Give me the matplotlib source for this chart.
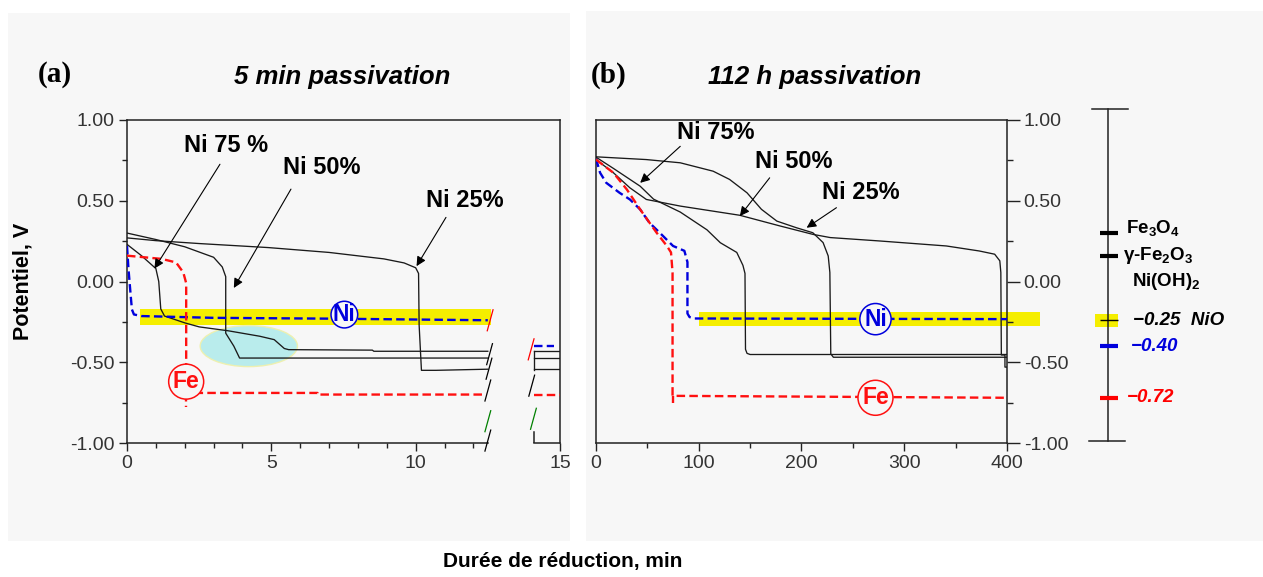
"""Galvanostatic reduction curves after 5 min and 112 h passivation."""

import matplotlib

matplotlib.use("Agg")

import matplotlib.pyplot as plt
from matplotlib.patches import Ellipse, Rectangle
from matplotlib.ticker import FixedLocator, FormatStrFormatter

plt.rcParams["font.family"] = ["Liberation Sans", "DejaVu Sans"]
plt.rcParams["axes.unicode_minus"] = False
plt.rcParams["mathtext.fontset"] = "custom"
plt.rcParams["mathtext.rm"] = "Liberation Sans:bold"
plt.rcParams["mathtext.default"] = "rm"

# ---- panel (a): 5 min passivation, time in min ----
a_ni25_x = [0, 1.0, 2.5, 4.9, 7.0, 8.9, 9.6, 10.0, 10.1, 10.12, 10.2, 10.7, 12.5]
a_ni25_v = [0.27, 0.253, 0.235, 0.21, 0.18, 0.14, 0.115, 0.085, 0.05, -0.27, -0.55, -0.55, -0.543]
a_ni50_x = [0, 1.0, 2.0, 3.0, 3.3, 3.42, 3.42, 3.7, 3.9, 12.5]
a_ni50_v = [0.30, 0.26, 0.215, 0.15, 0.09, 0.03, -0.32, -0.40, -0.474, -0.474]
a_ni75_x = [0, 0.5, 1.0, 1.1, 1.17, 1.3, 2.0, 2.5, 3.5, 4.6, 5.1, 5.45, 5.6, 8.5, 8.55, 12.5]
a_ni75_v = [0.23, 0.16, 0.08, 0.0, -0.17, -0.214, -0.256, -0.281, -0.305, -0.339, -0.36, -0.415,
            -0.422, -0.425, -0.432, -0.432]
a_ni_x = [0, 0.05, 0.12, 0.17, 0.24, 0.5, 3.0, 7.0, 12.5]
a_ni_v = [0.22, 0.08, -0.07, -0.173, -0.204, -0.214, -0.225, -0.23, -0.24]
a_fe_x = [0, 1.2, 1.7, 1.95, 2.05, 2.05, 6.6, 6.6, 12.45]
a_fe_v = [0.16, 0.14, 0.118, 0.056, -0.01, -0.69, -0.69, -0.70, -0.70]
a_fe_tail_x = [2.05, 2.05]
a_fe_tail_v = [-0.69, -0.78]
# levels after the axis break (14.1 - 15 min)
a_tail_x = [14.1, 15]
a_tail_ni = -0.40
a_tail_black = [-0.432, -0.474, -0.543]
a_tail_fe = -0.70
a_tail_join = [-0.432, -0.55]
a_band_x = [0.44, 12.6]
a_band_v = [-0.272, -0.168]
a_break_x = [12.5, 14.1]
a_breaks = [(12.58, -0.24, "red"), (12.56, -0.45, "black"), (12.54, -0.54, "black"),
            (12.5, -0.675, "black"), (12.5, -0.865, "green"), (12.5, -0.985, "black"),
            (14.0, -0.42, "red"), (14.02, -0.645, "black"), (14.08, -0.85, "green")]

# ---- panel (b): 112 h passivation, time in min ----
b_ni75_x = [0, 17, 43, 56, 82, 108, 121, 137, 143, 145, 145.5, 147, 150, 400]
b_ni75_v = [0.77, 0.70, 0.59, 0.51, 0.43, 0.32, 0.24, 0.18, 0.10, 0.05, -0.42, -0.445, -0.452, -0.452]
b_ni50_x = [0, 49, 82, 114, 130, 147, 161, 176, 195, 211, 221, 226, 227.6, 228.5, 231, 400]
b_ni50_v = [0.772, 0.755, 0.735, 0.683, 0.632, 0.549, 0.447, 0.374, 0.333, 0.302, 0.241, 0.158,
            0.056, -0.448, -0.469, -0.469]
b_ni25_x = [0, 17, 33, 49, 82, 140, 179, 211, 228, 276, 341, 373, 388, 393, 394, 394.5, 398, 398, 400]
b_ni25_v = [0.755, 0.673, 0.58, 0.508, 0.467, 0.41, 0.344, 0.292, 0.272, 0.251, 0.22, 0.189, 0.169,
            0.128, 0.056, -0.455, -0.455, -0.53, -0.53]
b_ni_x = [0, 4, 10, 23, 33, 43, 52, 62, 75, 86, 89, 89, 91, 95, 400]
b_ni_v = [0.76, 0.673, 0.611, 0.549, 0.508, 0.446, 0.364, 0.302, 0.22, 0.19, 0.12, -0.198, -0.22,
          -0.229, -0.233]
b_fe_x = [0, 17, 30, 43, 59, 69, 73, 74.5, 74.5, 400]
b_fe_v = [0.755, 0.673, 0.57, 0.446, 0.302, 0.22, 0.18, 0.056, -0.708, -0.72]
b_fe_tail_x = [74.5, 74.5]
b_fe_tail_v = [-0.708, -0.75]
b_band_x = [100, 432]
b_band_v = [-0.277, -0.187]

# ---- reference potentials scale ----
ref_levels = [0.30, 0.155, -0.24, -0.40, -0.72]
ref_colors = ["black", "black", "black", "#0000dd", "red"]
ref_widths = [3.0, 3.0, 1.0, 3.0, 3.0]
ref_labels = ["Fe$_3$O$_4$", "γ-Fe$_2$O$_3$", "Ni(OH)$_2$", "−0.25  NiO", "−0.40", "−0.72"]
ref_label_v = [0.33, 0.16, 0.0, -0.24, -0.40, -0.72]
ref_label_colors = ["black", "black", "black", "black", "#0000dd", "red"]
ref_label_italic = [False, False, False, True, True, True]

BG = "#f7f7f7"
CURVE = "#1a1a1a"
BLUE = "#0000dd"
RED = "#ff1010"
YELLOW = "#f5ee00"
DASH = (3.6, 1.8)

W, H = 1263, 577


def fx(px):
    return px / W


def fy(py):
    return 1 - py / H


def style_axes(ax):
    ax.set_facecolor("none")
    ax.set_ylim(-1, 1)
    ax.yaxis.set_major_locator(FixedLocator([-1, -0.5, 0, 0.5, 1]))
    ax.yaxis.set_minor_locator(FixedLocator([-0.75, -0.25, 0.25, 0.75]))
    ax.yaxis.set_major_formatter(FormatStrFormatter("%.2f"))
    ax.tick_params(which="both", direction="out", width=1, colors="#222222",
                   labelcolor="#333333", labelsize=14, pad=3)
    ax.tick_params(which="major", length=6)
    ax.tick_params(which="minor", length=3.5)
    for sp in ax.spines.values():
        sp.set_linewidth(1.1)
        sp.set_color("#222222")


def circle_label(ax, x, v, text, color, pad=0.12):
    ax.text(x, v, text, color=color, fontsize=16.5, fontweight="bold", ha="center", va="center",
            zorder=6, bbox=dict(boxstyle=f"circle,pad={pad}", fc=BG, ec=color, lw=1.1))


def pointer(ax, label, text_xy, tail, tip):
    ax.text(*text_xy, label, fontsize=17, fontweight="bold", ha="center", va="center", zorder=6)
    ax.annotate("", xy=tip, xytext=tail, zorder=6,
                arrowprops=dict(arrowstyle="-|>", color="black", lw=0.8, mutation_scale=14,
                                shrinkA=0, shrinkB=0))


fig = plt.figure(figsize=(W / 100, H / 100), dpi=100)
fig.patch.set_facecolor("white")
for x0, y0, x1, y1 in [(8, 13, 570, 541), (586, 11, 1263, 541)]:
    fig.patches.append(Rectangle((fx(x0), fy(y1)), fx(x1 - x0), (y1 - y0) / H,
                                 transform=fig.transFigure, fc=BG, ec="none", zorder=-10))

bottom, height = fy(443), 323 / H

# ---------------- panel (a) ----------------
ax1 = fig.add_axes([fx(127), bottom, fx(433), height])
style_axes(ax1)
ax1.set_xlim(0, 15)
ax1.xaxis.set_major_locator(FixedLocator([0, 5, 10, 15]))
ax1.xaxis.set_minor_locator(FixedLocator([1, 2, 3, 4, 6, 7, 8, 9, 11, 12]))
ax1.spines["bottom"].set_visible(False)
trans = ax1.get_xaxis_transform()
ax1.plot([0, a_break_x[0]], [0, 0], color="#222222", lw=1.1, transform=trans, clip_on=False)
ax1.plot([a_break_x[1], 15], [0, 0], color="#222222", lw=1.1, transform=trans, clip_on=False)
ax1.plot([a_break_x[1]] * 2, [-1, -0.93], color="#222222", lw=1.1)

ax1.fill_between(a_band_x, a_band_v[0], a_band_v[1], color=YELLOW, lw=0, zorder=1)
ax1.add_patch(Ellipse((4.22, -0.40), 3.37, 0.254, fc="#b9ecec", ec="#eef0b0", lw=1, zorder=1.5))

for xs, vs in [(a_ni25_x, a_ni25_v), (a_ni50_x, a_ni50_v), (a_ni75_x, a_ni75_v)]:
    ax1.plot(xs, vs, color=CURVE, lw=0.95, zorder=3)
ax1.plot(a_ni_x, a_ni_v, color=BLUE, lw=1.7, dashes=DASH, zorder=4)
ax1.plot(a_fe_x, a_fe_v, color=RED, lw=1.7, dashes=DASH, zorder=4)
ax1.plot(a_fe_tail_x, a_fe_tail_v, color=RED, lw=1.7, dashes=DASH, zorder=4)
for lvl in a_tail_black:
    ax1.plot(a_tail_x, [lvl, lvl], color=CURVE, lw=0.95, zorder=3)
ax1.plot([a_tail_x[0]] * 2, a_tail_join, color=CURVE, lw=0.95, zorder=3)
ax1.plot([a_tail_x[0], 14.8], [a_tail_ni] * 2, color=BLUE, lw=1.7, dashes=DASH, zorder=4)
ax1.plot(a_tail_x, [a_tail_fe] * 2, color=RED, lw=1.7, dashes=DASH, zorder=4)
for bx, bv, bc in a_breaks:
    ax1.plot([bx - 0.1, bx + 0.1], [bv - 0.065, bv + 0.065], color=bc, lw=0.9,
             clip_on=False, zorder=5)

circle_label(ax1, 7.53, -0.205, "Ni", BLUE, pad=0.08)
circle_label(ax1, 2.05, -0.62, "Fe", RED, pad=0.18)
pointer(ax1, "Ni 75 %", (3.42, 0.84), (3.22, 0.726), (0.95, 0.08))
pointer(ax1, "Ni 50%", (6.74, 0.706), (5.68, 0.572), (3.7, -0.04))
pointer(ax1, "Ni 25%", (11.71, 0.50), (11.05, 0.397), (10.03, 0.095))

ax1.set_ylabel("Potentiel, V", fontsize=15.5, fontweight="bold")
ax1.yaxis.set_label_coords(-0.217, 0.5)

# ---------------- panel (b) ----------------
ax2 = fig.add_axes([fx(596), bottom, fx(411), height])
style_axes(ax2)
ax2.set_xlim(0, 400)
ax2.xaxis.set_major_locator(FixedLocator([0, 100, 200, 300, 400]))
ax2.xaxis.set_minor_locator(FixedLocator([50, 150, 250, 350]))
ax2.yaxis.tick_right()
ax2.tick_params(axis="y", which="major", length=9)
ax2.tick_params(axis="y", which="minor", length=4)

ax2.fill_between(b_band_x, b_band_v[0], b_band_v[1], color=YELLOW, lw=0, zorder=1, clip_on=False)
for xs, vs in [(b_ni75_x, b_ni75_v), (b_ni50_x, b_ni50_v), (b_ni25_x, b_ni25_v)]:
    ax2.plot(xs, vs, color=CURVE, lw=0.95, zorder=3)
ax2.plot(b_ni_x, b_ni_v, color=BLUE, lw=1.7, dashes=DASH, zorder=4)
ax2.plot(b_fe_x, b_fe_v, color=RED, lw=1.7, dashes=DASH, zorder=4)
ax2.plot(b_fe_tail_x, b_fe_tail_v, color=RED, lw=1.7, dashes=DASH, zorder=4)

circle_label(ax2, 272, -0.233, "Ni", BLUE, pad=0.18)
circle_label(ax2, 272, -0.72, "Fe", RED, pad=0.18)
pointer(ax2, "Ni 75%", (117, 0.924), (82, 0.837), (43, 0.611))
pointer(ax2, "Ni 50%", (192, 0.745), (169, 0.642), (140, 0.405))
pointer(ax2, "Ni 25%", (258, 0.549), (234, 0.457), (205, 0.333))

# ---------------- reference potential scale ----------------
ax3 = fig.add_axes([fx(1060), bottom, fx(203), height])
ax3.set_xlim(0, 203)
ax3.set_ylim(-1, 1)
ax3.axis("off")
ax3.plot([48, 48], [-0.99, 1.07], color="#222222", lw=1.1, clip_on=False)
ax3.plot([32, 68], [1.07, 1.07], color="#222222", lw=1.1, clip_on=False)
ax3.plot([29, 65], [-0.99, -0.99], color="#222222", lw=1.1, clip_on=False)
ax3.fill_between([35, 58], -0.28, -0.20, color=YELLOW, lw=0, zorder=1)
for lvl, col, lw in zip(ref_levels, ref_colors, ref_widths):
    ax3.plot([40, 58], [lvl, lvl], color=col, lw=lw, solid_capstyle="butt", zorder=3)
label_x = [66, 63, 72, 73, 71, 67]
for txt, lx, lv, col, it in zip(ref_labels, label_x, ref_label_v, ref_label_colors, ref_label_italic):
    ax3.text(lx, lv, txt, color=col, fontsize=13.5, fontweight="bold",
             fontstyle="italic" if it else "normal", ha="left", va="center")

# ---------------- titles and shared x label ----------------
fig.text(fx(55), fy(75), "(a)", family="Liberation Serif", fontsize=21, fontweight="bold",
         ha="center", va="center")
fig.text(fx(609), fy(75), "(b)", family="Liberation Serif", fontsize=21, fontweight="bold",
         ha="center", va="center")
fig.text(fx(342), fy(77), "5 min passivation", fontsize=18.5, fontweight="bold",
         fontstyle="italic", ha="center", va="center")
fig.text(fx(815), fy(77), "112 h passivation", fontsize=18.5, fontweight="bold",
         fontstyle="italic", ha="center", va="center")
fig.text(fx(563), fy(562), "Durée de réduction, min", fontsize=15, fontweight="bold",
         ha="center", va="center")

fig.savefig("out.png", dpi=100)
plt.close(fig)
